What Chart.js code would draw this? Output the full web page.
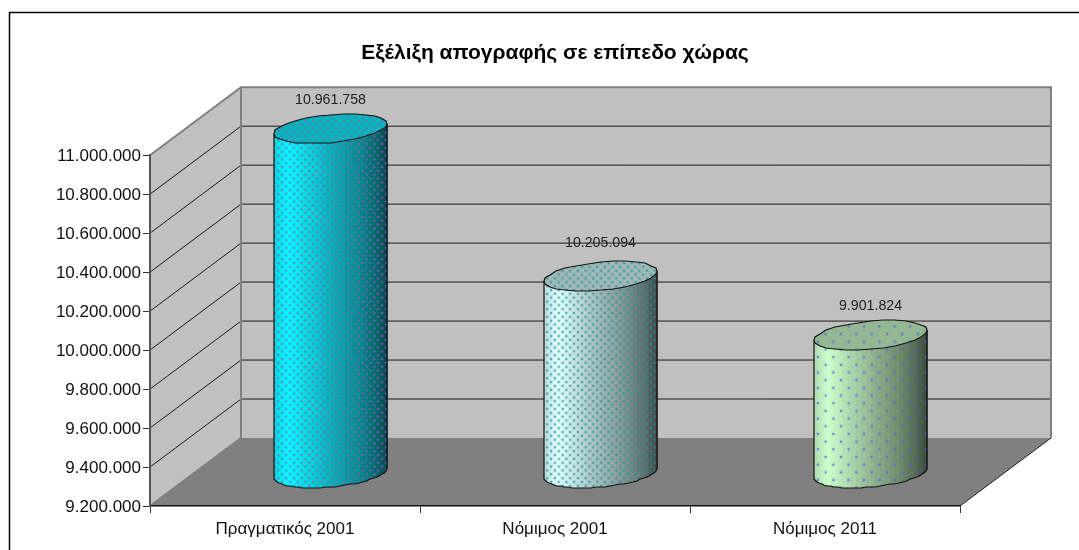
<!DOCTYPE html>
<html lang="el">
<head>
<meta charset="utf-8">
<title>Απογραφή</title>
<script src="https://cdn.jsdelivr.net/npm/chart.js@4"></script>
<style>
    html, body { margin: 0; padding: 0; background: #fff; }
    canvas { display: block; }
</style>
</head>
<body>
<canvas id="myChart" width="1079" height="550"></canvas>
<script>
// data
var categories = ['Πραγματικός 2001', 'Νόμιμος 2001', 'Νόμιμος 2011'];
var values = [10961758, 10205094, 9901824];
var axisMin = 9200000;
var axisMax = 11000000;
var axisStep = 200000;
var chartTitle = 'Εξέλιξη απογραφής σε επίπεδο χώρας';

// look of each cylinder
var bodyColors = [[0, 255, 255], [225, 255, 255], [204, 255, 204]];
var dotColors = ['150,90,210', '30,150,150', '90,90,230'];
var dotTiles = [8, 8, 16];
var labelLift = [30, 34, 30];

var depthX = 91;
var depthY = 68;
var font = '"Liberation Sans", Arial, sans-serif';

function formatNumber(v){
    return String(v).replace(/\B(?=(\d{3})+$)/g, '.');
}

function makeDots(ctx, tile, color){
    var c = document.createElement('canvas');
    c.width = tile;
    c.height = tile;
    var p = c.getContext('2d');
    [[tile / 4, tile / 4], [tile * 3 / 4, tile * 3 / 4]].forEach(function(d){
        p.fillStyle = 'rgba(' + color + ',0.3)';
        p.fillRect(d[0] - 1.5, d[1] - 1.5, 3, 3);
        p.fillStyle = 'rgba(' + color + ',0.6)';
        p.fillRect(d[0] - 1, d[1] - 1, 2, 2);
    });
    var pattern = ctx.createPattern(c, 'repeat');
    pattern.setTransform(new DOMMatrix().scale(0.96));
    return pattern;
}

// brightness across the cylinder, left to right
function shade(f){
    var stops = [[0, 0.85], [0.12, 1], [0.45, 0.75], [0.75, 0.55], [0.9, 0.42], [1, 0.28]];
    for (var i = 1; i < stops.length; i++) {
        if (f <= stops[i][0]) {
            var t = (f - stops[i - 1][0]) / (stops[i][0] - stops[i - 1][0]);
            return stops[i - 1][1] + t * (stops[i][1] - stops[i - 1][1]);
        }
    }
    return 0.28;
}

function rgb(c, k){
    return 'rgb(' + Math.round(c[0] * k) + ',' + Math.round(c[1] * k) + ',' + Math.round(c[2] * k) + ')';
}

// point on the tilted ellipse, rounded so the outline gets the same rough edge
function ellipsePoint(cx, cy, r, a){
    return [Math.round(cx + r * Math.cos(a)), Math.round(cy - 5 * Math.cos(a) + 14 * Math.sin(a))];
}

function drawCylinder(ctx, bar, i, baseY){
    var cx = bar.x + depthX / 2;
    var r = bar.width / 2;
    var top = bar.y - depthY / 2;
    var bottom = baseY - depthY / 2 + 1;
    var steps = 36;
    var dots = makeDots(ctx, dotTiles[i], dotColors[i]);

    // facets of the body, front half only
    var outline = [];
    for (var s = 0; s < steps; s++) {
        var a0 = Math.PI - s * Math.PI / steps;
        var a1 = Math.PI - (s + 1) * Math.PI / steps;
        var p0 = ellipsePoint(cx, top, r, a0);
        var p1 = ellipsePoint(cx, top, r, a1);
        var q0 = ellipsePoint(cx, bottom, r, a0);
        var q1 = ellipsePoint(cx, bottom, r, a1);
        ctx.fillStyle = rgb(bodyColors[i], shade(((p0[0] + p1[0]) / 2 - (cx - r)) / (2 * r)));
        ctx.beginPath();
        ctx.moveTo(p0[0], p0[1]);
        ctx.lineTo(p1[0] + 0.5, p1[1]);
        ctx.lineTo(q1[0] + 0.5, q1[1]);
        ctx.lineTo(q0[0], q0[1]);
        ctx.closePath();
        ctx.fill();
        outline.push(q0);
    }
    outline.push(ellipsePoint(cx, bottom, r, 0));

    // body dots and outline
    ctx.beginPath();
    ctx.moveTo(outline[0][0], top + 5);
    outline.forEach(function(p){ ctx.lineTo(p[0], p[1]); });
    ctx.lineTo(outline[steps][0], top - 5);
    ctx.fillStyle = dots;
    ctx.fill();
    ctx.strokeStyle = '#111';
    ctx.lineWidth = 1.2;
    ctx.stroke();

    // top cap
    ctx.beginPath();
    for (var k = 0; k < 28; k++) {
        var p = ellipsePoint(cx, top, r, k * 2 * Math.PI / 28);
        if (k == 0) ctx.moveTo(p[0], p[1]); else ctx.lineTo(p[0], p[1]);
    }
    ctx.closePath();
    ctx.fillStyle = rgb(bodyColors[i], 0.72);
    ctx.fill();
    ctx.fillStyle = dots;
    ctx.fill();
    ctx.stroke();

    // value label
    ctx.fillStyle = '#222';
    ctx.font = '14.2px ' + font;
    ctx.textAlign = 'center';
    ctx.textBaseline = 'middle';
    ctx.fillText(formatNumber(values[i]), cx, top - labelLift[i] + 1);
}

var room3d = {
    id: 'room3d',
    beforeDraw: function(chart){
        var ctx = chart.ctx;
        var a = chart.chartArea;
        var y = chart.scales.y;

        ctx.save();
        // outer frame, runs off the picture right and below
        ctx.strokeStyle = '#000';
        ctx.lineWidth = 1.5;
        ctx.beginPath();
        ctx.moveTo(9.5, 550);
        ctx.lineTo(9.5, 12.5);
        ctx.lineTo(1079, 12.5);
        ctx.stroke();

        // walls
        ctx.fillStyle = '#C0C0C0';
        ctx.fillRect(a.left + depthX, a.top - depthY, a.width, a.height);
        ctx.beginPath();
        ctx.moveTo(a.left, a.top);
        ctx.lineTo(a.left + depthX, a.top - depthY);
        ctx.lineTo(a.left + depthX, a.bottom - depthY);
        ctx.lineTo(a.left, a.bottom);
        ctx.closePath();
        ctx.fill();

        // floor
        ctx.fillStyle = '#808080';
        ctx.beginPath();
        ctx.moveTo(a.left, a.bottom);
        ctx.lineTo(a.left + depthX, a.bottom - depthY);
        ctx.lineTo(a.right + depthX, a.bottom - depthY);
        ctx.lineTo(a.right, a.bottom);
        ctx.closePath();
        ctx.fill();
        ctx.strokeStyle = '#222';
        ctx.lineWidth = 1;
        ctx.beginPath();
        ctx.moveTo(a.right, a.bottom);
        ctx.lineTo(a.right + depthX, a.bottom - depthY);
        ctx.stroke();

        // grid lines on side and back wall
        y.ticks.forEach(function(t){
            if (t.value == axisMin || t.value == axisMax) return;
            var py = y.getPixelForValue(t.value);
            ctx.strokeStyle = '#1a1a1a';
            ctx.lineWidth = 1;
            ctx.beginPath();
            ctx.moveTo(a.left, py);
            ctx.lineTo(a.left + depthX, py - depthY);
            ctx.lineTo(a.right + depthX, py - depthY);
            ctx.stroke();
        });

        // wall edges
        ctx.strokeStyle = '#808080';
        ctx.lineWidth = 2;
        ctx.beginPath();
        ctx.moveTo(a.left, a.top);
        ctx.lineTo(a.left + depthX, a.top - depthY);
        ctx.lineTo(a.right + depthX, a.top - depthY);
        ctx.lineTo(a.right + depthX, a.bottom - depthY);
        ctx.moveTo(a.left + depthX, a.top - depthY);
        ctx.lineTo(a.left + depthX, a.bottom - depthY);
        ctx.lineTo(a.left, a.bottom);
        ctx.stroke();
        ctx.restore();
    },
    afterDatasetsDraw: function(chart){
        var ctx = chart.ctx;
        var baseY = chart.scales.y.getPixelForValue(axisMin);
        ctx.save();
        chart.getDatasetMeta(0).data.forEach(function(bar, i){
            drawCylinder(ctx, bar, i, baseY);
        });
        ctx.restore();
    }
};

var myChart = new Chart(document.getElementById('myChart').getContext('2d'), {
    type: 'bar',
    data: {
        labels: categories,
        datasets: [{
            data: values,
            backgroundColor: 'rgba(0,0,0,0)',
            barPercentage: 0.4185,
            categoryPercentage: 1
        }]
    },
    plugins: [room3d],
    options: {
        responsive: false,
        animation: false,
        layout: { padding: { left: 9, right: 119, top: 0, bottom: 0 } },
        plugins: {
            legend: { display: false },
            tooltip: { enabled: false },
            title: {
                display: true,
                text: chartTitle,
                fullSize: false,
                color: '#000',
                font: { family: font, size: 21, weight: 'bold' },
                padding: { top: 41, bottom: 89 }
            }
        },
        scales: {
            x: {
                afterFit: function(s){ s.height = 44; },
                ticks: {
                    color: '#111',
                    font: { family: font, size: 17 },
                    padding: 6,
                    maxRotation: 0
                },
                grid: { drawOnChartArea: false, offset: true, tickLength: 7, tickColor: '#333' },
                border: { color: '#111', width: 1.5 }
            },
            y: {
                min: axisMin,
                max: axisMax,
                afterFit: function(s){ s.width = 141; },
                ticks: {
                    stepSize: axisStep,
                    autoSkip: false,
                    color: '#111',
                    font: { family: font, size: 17 },
                    padding: 2,
                    labelOffset: 1,
                    callback: function(v){ return formatNumber(v); }
                },
                grid: { drawOnChartArea: false, tickLength: 7, tickColor: '#333' },
                border: { color: '#555', width: 2 }
            }
        }
    }
});
</script>
</body>
</html>
